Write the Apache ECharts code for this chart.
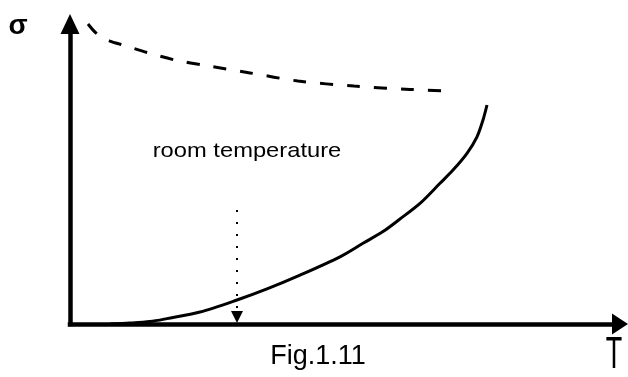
<!DOCTYPE html>
<html>
<head>
<meta charset="utf-8">
<script src="https://cdn.jsdelivr.net/npm/echarts@6/dist/echarts.min.js"></script>
<style>
  html, body { margin: 0; padding: 0; background: #fff; }
  #chart { width: 628px; height: 377px; }
</style>
</head>
<body>
<div id="chart"></div>
<script>
// upper dashed curve (T, sigma)
const upperT = [3.6, 5.4, 8, 10.6, 15.8, 21, 26.6, 36, 45.6, 56.8, 68, 75.6]
const upperSigma = [100, 96.7, 94.3, 93, 90.3, 88, 86.3, 83.7, 81, 79.3, 78.2, 77.7]

// lower solid curve
const lowerT = [8, 12, 16, 19.4, 26, 33.4, 39.4, 46, 54, 58.6, 62.6, 66, 70, 74, 76.6, 79.4, 81.4, 82.6, 83.4]
const lowerSigma = [0, 0.3, 0.8, 1.8, 4, 8, 11.7, 16.3, 22.4, 26.9, 30.8, 35, 40.2, 46.9, 51.3, 56.9, 62.4, 68, 73]

// room temperature marker
const roomT = 33.4
const roomMarkTop = 38
const roomMarkEnd = 2.3

const zip = (xs, ys) => xs.map((x, i) => [x, ys[i]])

let chart = echarts.init(document.getElementById('chart'), null, { renderer: 'canvas' })

let axisLine = (size) => ({
  show: true,
  symbol: ['none', 'triangle'],
  symbolSize: size,
  lineStyle: { color: '#000', width: 4.5, cap: 'square' }
})

let option = {
  animation: false,
  backgroundColor: '#fff',
  grid: { left: 70, right: 8, top: 24, bottom: 53 },
  xAxis: {
    type: 'value',
    min: 0,
    max: 110,
    axisLine: axisLine([21, 16]),
    axisTick: { show: false },
    axisLabel: { show: false },
    splitLine: { show: false }
  },
  yAxis: {
    type: 'value',
    min: 0,
    max: 100,
    axisLine: axisLine([19, 20]),
    axisTick: { show: false },
    axisLabel: { show: false },
    splitLine: { show: false }
  },
  series: [
    {
      type: 'line',
      data: zip(upperT, upperSigma),
      smooth: 0.3,
      showSymbol: false,
      clip: false,
      silent: true,
      lineStyle: { color: '#000', width: 3, type: [13, 14] }
    },
    {
      type: 'line',
      data: zip(lowerT, lowerSigma),
      smooth: 0.3,
      showSymbol: false,
      clip: false,
      silent: true,
      lineStyle: { color: '#000', width: 3 }
    },
    {
      type: 'line',
      data: [],
      silent: true,
      markLine: {
        silent: true,
        symbol: ['none', 'triangle'],
        symbolSize: 12,
        label: { show: false },
        lineStyle: { color: '#000', width: 2, type: [2, 10] },
        data: [[{ coord: [roomT, roomMarkTop] }, { coord: [roomT, roomMarkEnd] }]]
      }
    }
  ],
  graphic: [
    {
      type: 'text', x: 18, y: 26,
      style: { text: 'σ', font: 'bold 28px "Liberation Sans", Arial', fill: '#000', textAlign: 'center', textVerticalAlign: 'middle' }
    },
    {
      type: 'text', x: 247, y: 151, scaleX: 1.13,
      style: { text: 'room temperature', font: '21px "Liberation Sans", Arial', fill: '#000', textAlign: 'center', textVerticalAlign: 'middle' }
    },
    {
      type: 'text', x: 318, y: 357,
      style: { text: 'Fig.1.11', font: '27px "Liberation Sans", Arial', fill: '#000', textAlign: 'center', textVerticalAlign: 'middle' }
    },
    {
      type: 'text', x: 614, y: 356, scaleX: 0.6,
      style: { text: 'T', font: '45px "Liberation Sans", Arial', fill: '#000', textAlign: 'center', textVerticalAlign: 'middle' }
    }
  ]
}

chart.setOption(option)
</script>
</body>
</html>
